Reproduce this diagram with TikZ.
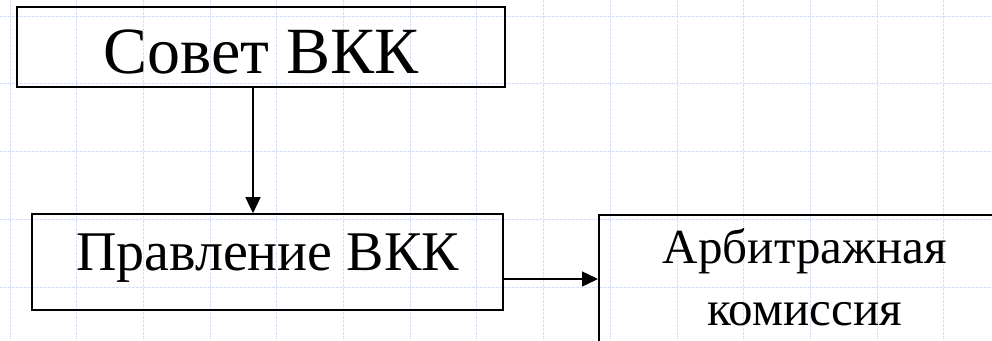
\documentclass[tikz,border=0pt]{standalone}
\usepackage{fontspec}
\setmainfont{Liberation Serif}
\usetikzlibrary{arrows.meta}
\definecolor{gridblue}{RGB}{215,224,250}
\tikzset{
  box/.style={draw,line width=1.6pt,inner xsep=0pt,inner ysep=0pt},
  arr/.style={line width=1.4pt,-{Triangle[length=16pt,width=15pt]}},
  gridline/.style={gridblue,line width=0.9pt,dash pattern=on 2.5pt off 1.5pt}
}
\begin{document}
\begin{tikzpicture}[x=1pt,y=-1pt]
\useasboundingbox (0,0) rectangle (992,340);
\clip (0,0) rectangle (992,340);
% background grid
\foreach \i in {0,...,14} \draw[gridline] ({10+66.7*\i},0)--({10+66.7*\i},340);
\foreach \j in {0,...,4} \draw[gridline] (0,{16+67.8*\j})--(992,{16+67.8*\j});
% boxes
\node[box,minimum width=488pt,text height=66pt,text depth=14pt,font=\fontsize{66}{70}\selectfont] (sovet) at (261,47) {Совет ВКК};
\node[box,minimum width=471pt,text height=56pt,text depth=40pt,font=\fontsize{56}{60}\selectfont] (pravl) at (267.5,262) {Правление ВКК};
\node[box,anchor=north west,minimum width=412pt,text height=111pt,text depth=40pt,align=center,font=\fontsize{49}{62}\selectfont] (arb) at (598,214) {Арбитражная\\комиссия};
% arrows
\coordinate (stem) at (253,0);
\coordinate (lvl) at (0,279);
\draw[arr] (sovet.south -| stem) -- (pravl.north -| stem);
\draw[arr] (pravl.east |- lvl) -- (arb.west |- lvl);
\end{tikzpicture}
\end{document}
